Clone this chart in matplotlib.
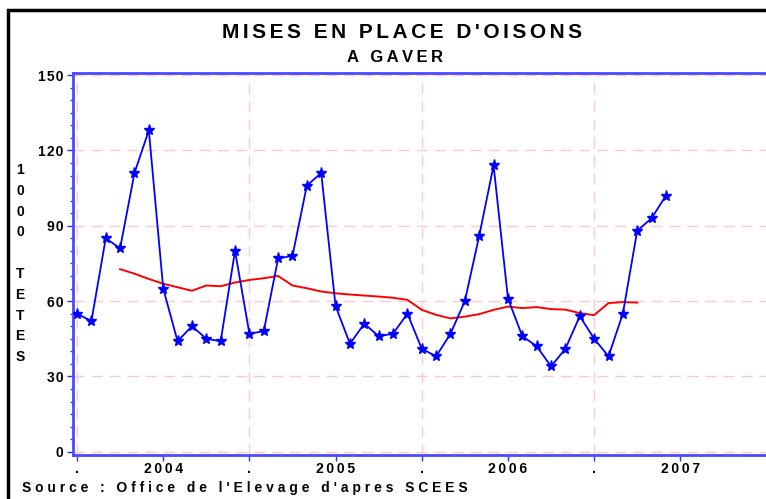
import numpy as np
import matplotlib
matplotlib.use("Agg")
import matplotlib.pyplot as plt
from matplotlib.patches import Rectangle
from matplotlib.ticker import MultipleLocator

# mises en place mensuelles, juillet 2003 -> decembre 2006 (milliers de tetes)
mises = [55, 52, 85, 81, 111, 128, 65, 44, 50, 45, 44, 80,
         47, 48, 77, 78, 106, 111, 58, 43, 51, 46, 47, 55,
         41, 38, 47, 60, 86, 114, 61, 46, 42, 34, 41, 54,
         45, 38, 55, 88, 93, 102]
# moyenne mobile (du 4e au 40e mois)
moyenne = [72.7, 70.9, 68.8, 66.9, 65.5, 64.1, 66.2, 65.9, 67.4, 68.4,
           69.1, 70.0, 66.2, 65.1, 63.8, 63.1, 62.6, 62.2, 61.8, 61.3,
           60.5, 56.5, 54.5, 53.1, 53.8, 54.8, 56.5, 57.8, 57.2, 57.6,
           56.8, 56.6, 55.2, 54.4, 59.2, 59.6, 59.4]
moy_debut = 3
x_labels = [".", "2004", ".", "2005", ".", "2006", ".", "2007"]
y_ticks = [0, 30, 60, 90, 120, 150]

def spaced(s, sep="\u200a"):
    return sep.join(s)

plt.rcParams['font.family'] = ['Liberation Sans', 'DejaVu Sans']

fig = plt.figure(figsize=(7.66, 4.99), dpi=100)
# cadre noir
fig.patches.append(Rectangle((8/766, -0.1), 1.2, 1 - 10/499 + 0.1, transform=fig.transFigure,
                             fill=False, edgecolor='black', linewidth=2.5))

ax = fig.add_axes([73/766, 44/499, (778-73)/766, (455-73.3)/499])

x = np.arange(len(mises))
xm = np.arange(moy_debut, moy_debut + len(moyenne))
ax.plot(x, mises, color='#0000ff', linewidth=1.3, marker='*', markersize=8, zorder=3)
ax.plot(xm, moyenne, color='#ff0000', linewidth=1.4, zorder=2)

ax.set_xlim(-0.28, 48.8)
ax.set_ylim(-1.3, 150.7)

ax.set_xticks(np.arange(0, 6 * len(x_labels), 6))
ax.set_xticklabels([spaced(s, "\u2009") for s in x_labels], fontsize=10, fontweight='bold')
ax.set_yticks(y_ticks)
ax.set_yticklabels([spaced(str(v)) for v in y_ticks], fontsize=10, fontweight='bold')
ax.yaxis.set_minor_locator(MultipleLocator(5))

# grille
for v in y_ticks:
    ax.axhline(v, color='#ffc8d0', linestyle=(0, (8, 5)), linewidth=1, zorder=1)
for v in range(0, 48, 12):
    ax.axvline(v, color='#ffc8d0', linestyle=(0, (8, 5)), linewidth=1, zorder=1)

for side in ['left', 'bottom', 'top']:
    ax.spines[side].set_color('#4a4aff')
    ax.spines[side].set_linewidth(2)
ax.spines['right'].set_visible(False)
ax.tick_params(axis='both', which='major', color='#3030ff', length=4, width=1)
ax.tick_params(axis='y', which='minor', color='#3030ff', length=2, width=1)
ax.tick_params(axis='x', pad=1)
ax.tick_params(axis='y', pad=3)

fig.text(402/766, 1 - 33/499, spaced("MISES EN PLACE D'OISONS", "\u200a\u200a"), ha='center', va='center',
         fontsize=15, fontweight='bold')
fig.text(395/766, 1 - 58/499, spaced("A GAVER", "\u2009"), ha='center', va='center',
         fontsize=12, fontweight='bold')

ylab = ["1", "0", "0", "0", "", "T", "E", "T", "E", "S"]
y0 = 170
for i, c in enumerate(ylab):
    if c:
        fig.text(20/766, 1 - (y0 + i * 20.8)/499, c, ha='center', va='center',
                 fontsize=10, fontweight='bold')

fig.text(22/766, 1 - 488/499, spaced("Source : Office de l'Elevage d'apres SCEES", "\u2009\u200a"),
         ha='left', va='center', fontsize=10, fontweight='bold')

fig.savefig("out.png", dpi=100)
